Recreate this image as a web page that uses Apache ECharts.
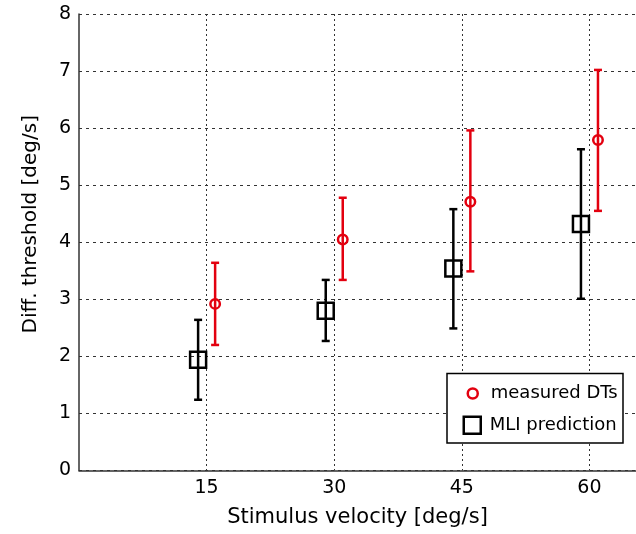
<!DOCTYPE html>
<html>
<head>
<meta charset="utf-8">
<script src="https://cdn.jsdelivr.net/npm/echarts@6/dist/echarts.min.js"></script>
<style>
  html, body { margin: 0; padding: 0; background: #fff; }
  #main { width: 636px; height: 534px; }
</style>
</head>
<body>
<div id="main"></div>
<script>
// tick labels on the velocity axis
const velocityTicks = [15, 30, 45, 60];

// measured DTs (plotted slightly right of the tick)
const measuredX = [16, 31, 46, 61];
const measuredDT = [2.92, 4.05, 4.71, 5.79];
const measuredLow = [2.20, 3.34, 3.49, 4.55];
const measuredHigh = [3.64, 4.78, 5.96, 7.02];

// MLI prediction (plotted slightly left of the tick)
const mliX = [14, 29, 44, 59];
const mliPred = [1.94, 2.80, 3.54, 4.32];
const mliLow = [1.24, 2.27, 2.49, 3.01];
const mliHigh = [2.64, 3.34, 4.58, 5.63];

const RED = '#e3000f';
const FONT = 'DejaVu Sans';

const pts = (xs, ys) => xs.map((x, i) => [x, ys[i]]);
const bars = (xs, lo, hi) => xs.map((x, i) => [x, lo[i], hi[i]]);

// vertical bar with caps
const errorBar = color => (params, api) => {
  const x = api.value(0);
  const bot = api.coord([x, api.value(1)]);
  const top = api.coord([x, api.value(2)]);
  const cap = 4;
  const style = { stroke: color, lineWidth: 2.5 };
  return {
    type: 'group',
    children: [
      { type: 'line', shape: { x1: top[0], y1: top[1], x2: bot[0], y2: bot[1] }, style },
      { type: 'line', shape: { x1: top[0] - cap, y1: top[1], x2: top[0] + cap, y2: top[1] }, style },
      { type: 'line', shape: { x1: bot[0] - cap, y1: bot[1], x2: bot[0] + cap, y2: bot[1] }, style }
    ]
  };
};

const chart = echarts.init(document.getElementById('main'));

chart.setOption({
  animation: false,
  backgroundColor: '#fff',
  textStyle: { fontFamily: FONT },
  grid: { left: 79, right: 0, top: 14, bottom: 63.5, containLabel: false },
  xAxis: {
    type: 'value',
    min: 0,
    max: 65.47,
    interval: 15,
    name: 'Stimulus velocity [deg/s]',
    nameLocation: 'middle',
    nameGap: 37,
    nameTextStyle: { fontSize: 21, color: '#000', fontFamily: FONT },
    axisLine: { show: true, lineStyle: { color: '#333', width: 1.5 } },
    axisTick: { show: false },
    axisLabel: {
      margin: 8, fontSize: 19, color: '#000', fontFamily: FONT,
      showMinLabel: false, showMaxLabel: false,
      formatter: v => velocityTicks.includes(v) ? String(v) : ''
    },
    splitLine: {
      show: true, showMinLine: false, showMaxLine: false,
      lineStyle: { color: '#333', width: 1, type: [2, 3] }
    }
  },
  yAxis: {
    type: 'value',
    min: 0,
    max: 8,
    interval: 1,
    name: 'Diff. threshold [deg/s]',
    nameLocation: 'middle',
    nameGap: 38,
    nameTextStyle: { fontSize: 20, color: '#000', fontFamily: FONT, padding: [0, 0, 0, 36] },
    axisLine: { show: true, lineStyle: { color: '#333', width: 1.5 } },
    axisTick: { show: false },
    axisLabel: { margin: 8, fontSize: 19, color: '#000', fontFamily: FONT },
    splitLine: { show: true, lineStyle: { color: '#333', width: 1, type: [3, 4] } }
  },
  graphic: [{
    type: 'rect',
    z: 3,
    shape: { x: 447, y: 373.5, width: 176, height: 69.5 },
    style: { fill: '#fff', stroke: '#000', lineWidth: 1.5 }
  }],
  legend: [{
    data: [{ name: 'measured DTs', icon: 'circle',
      itemStyle: { color: 'rgba(0,0,0,0)', borderColor: RED, borderWidth: 2.5 } }],
    left: 466.5, top: 384.5, padding: 0,
    itemWidth: 10, itemHeight: 10,
    textStyle: { fontSize: 18, color: '#000', fontFamily: FONT, padding: [0, 0, 0, 8] },
    selectedMode: false, z: 5
  }, {
    data: [{ name: 'MLI prediction', icon: 'rect',
      itemStyle: { color: 'rgba(0,0,0,0)', borderColor: '#000', borderWidth: 2.5 } }],
    left: 462.5, top: 415.5, padding: 0,
    itemWidth: 17, itemHeight: 17,
    textStyle: { fontSize: 18, color: '#000', fontFamily: FONT, padding: [0, 0, 0, 4] },
    selectedMode: false, z: 5
  }],
  series: [
    {
      name: 'MLI error', type: 'custom', renderItem: errorBar('#000'),
      data: bars(mliX, mliLow, mliHigh), z: 2
    },
    {
      name: 'measured error', type: 'custom', renderItem: errorBar(RED),
      data: bars(measuredX, measuredLow, measuredHigh), z: 2
    },
    {
      name: 'MLI prediction', type: 'scatter', symbol: 'rect', symbolSize: 16,
      itemStyle: { color: 'rgba(0,0,0,0)', borderColor: '#000', borderWidth: 2.5, opacity: 1 },
      data: pts(mliX, mliPred), z: 3
    },
    {
      name: 'measured DTs', type: 'scatter', symbol: 'circle', symbolSize: 9.5,
      itemStyle: { color: 'rgba(0,0,0,0)', borderColor: RED, borderWidth: 2.5, opacity: 1 },
      data: pts(measuredX, measuredDT), z: 3
    }
  ]
});
</script>
</body>
</html>
